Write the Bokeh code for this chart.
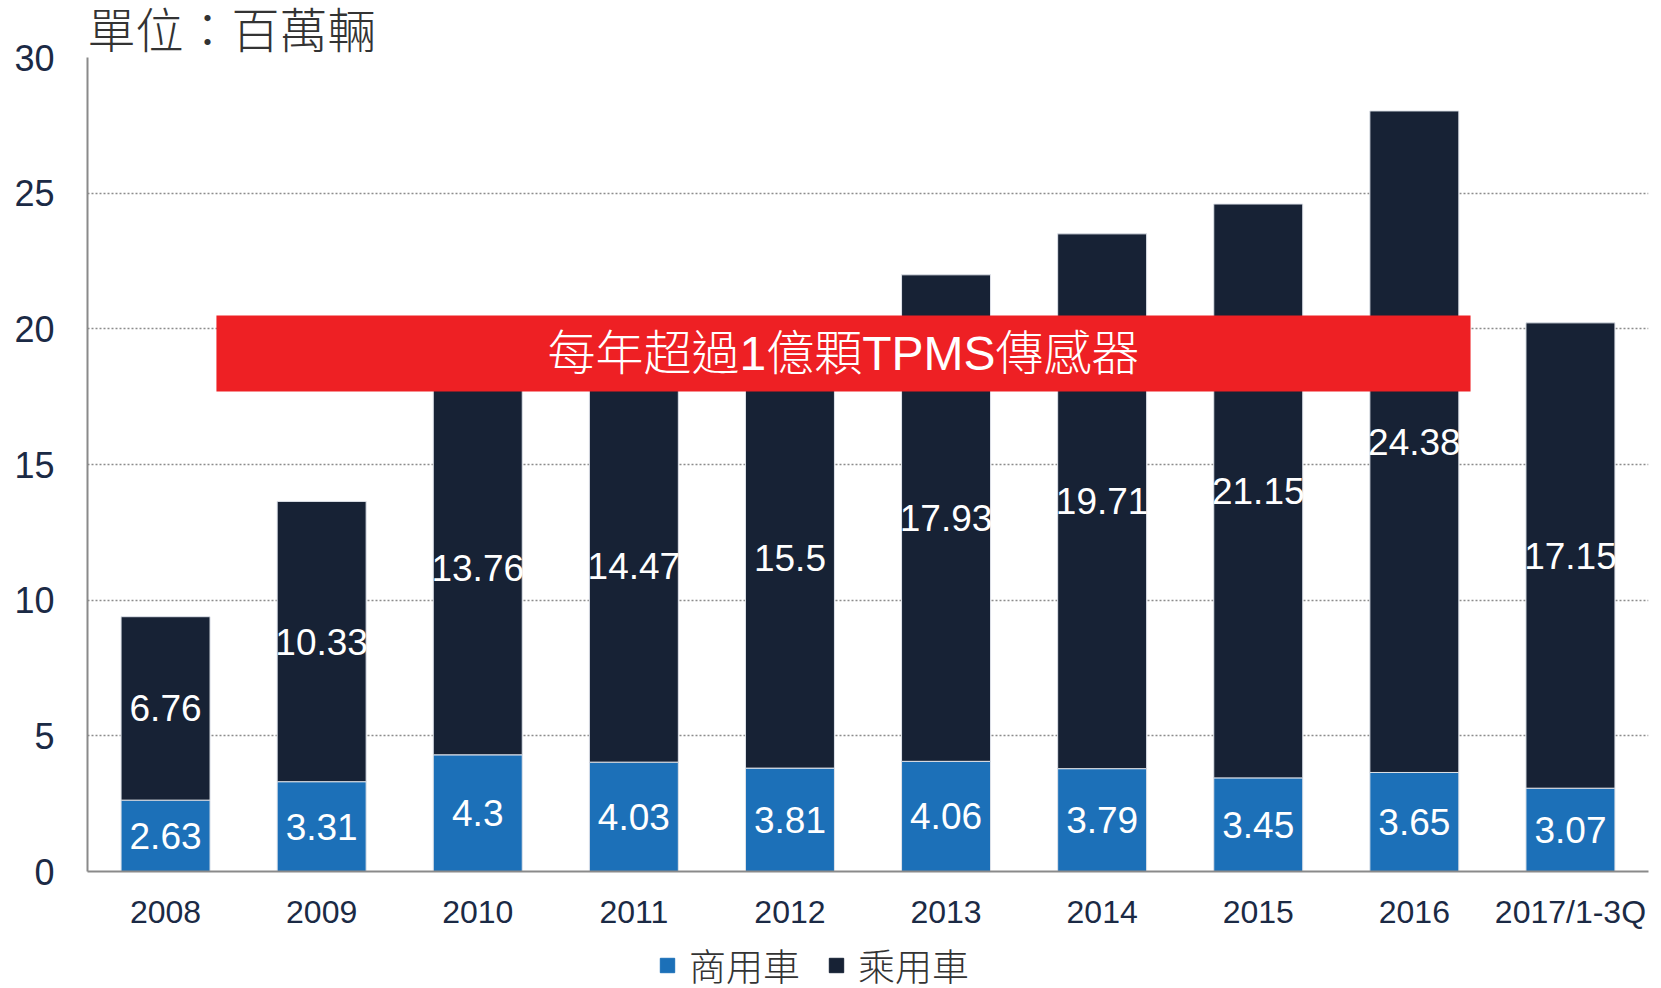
from bokeh.plotting import figure
from bokeh.models import (ColumnDataSource, FactorRange, Range1d, BoxAnnotation, Label,
                          Legend, LegendItem, FixedTicker, Title)
from bokeh.layouts import column
from bokeh.embed import file_html
from bokeh.resources import INLINE
from bokeh.core.properties import value

# ---- data ----
years = ["2008", "2009", "2010", "2011", "2012", "2013", "2014", "2015", "2016", "2017/1-3Q"]
commercial = [2.63, 3.31, 4.3, 4.03, 3.81, 4.06, 3.79, 3.45, 3.65, 3.07]
passenger = [6.76, 10.33, 13.76, 14.47, 15.5, 17.93, 19.71, 21.15, 24.38, 17.15]
series_names = ["商用車", "乘用車"]
y_ticks = [0, 5, 10, 15, 20, 25, 30]
unit_text = "單位：百萬輛"
banner_text = "每年超過1億顆TPMS傳感器"

# banner extent (synthetic categorical x, data y)
banner_left, banner_right = 0.826, 8.86
banner_bottom, banner_top = 17.69, 20.49

BLUE = "#1C70B8"
DARK = "#172235"
TICK_COLOR = "#1B2A45"
TEXT_GRAY = "#333333"
MIXED_FONT = "'Liberation Sans', 'Noto Sans CJK TC Light', 'Noto Sans CJK TC DemiLight', 'Noto Sans CJK TC'"

src = ColumnDataSource(dict(
    years=years,
    commercial=commercial,
    passenger=passenger,
    c_mid=[c / 2 for c in commercial],
    p_mid=[c + p / 2 for c, p in zip(commercial, passenger)],
    c_lab=[str(c) for c in commercial],
    p_lab=[str(p) for p in passenger],
))

p = figure(x_range=FactorRange(*years, range_padding=0), y_range=Range1d(0, 30),
           width=1658, height=940, output_backend="svg", toolbar_location=None,
           min_border_left=87, min_border_right=10, min_border_top=57, min_border_bottom=69)
p.outline_line_color = None

r = p.vbar_stack(["commercial", "passenger"], x="years", width=0.57, source=src,
                 color=[BLUE, DARK], line_color="#dfe3ea", line_width=1)

text_font = value("Liberation Sans")
p.text(x="years", y="c_mid", text="c_lab", source=src, text_color="white",
       text_font=text_font, text_font_size="37px", text_align="center", text_baseline="middle")
p.text(x="years", y="p_mid", text="p_lab", source=src, text_color="white",
       text_font=text_font, text_font_size="37px", text_align="center", text_baseline="middle")

# axes
p.yaxis.ticker = FixedTicker(ticks=y_ticks)
p.yaxis.major_label_text_font = "Liberation Sans"
p.yaxis.major_label_text_font_size = "36px"
p.yaxis.major_label_text_color = TICK_COLOR
p.yaxis.major_tick_line_color = None
p.yaxis.minor_tick_line_color = None
p.yaxis.major_label_standoff = 27
p.yaxis.axis_line_color = "#8a8a8a"
p.yaxis.axis_line_width = 2

p.xaxis.major_label_text_font = "Liberation Sans"
p.xaxis.major_label_text_font_size = "32px"
p.xaxis.major_label_text_color = TICK_COLOR
p.xaxis.major_tick_line_color = None
p.xaxis.minor_tick_line_color = None
p.xaxis.major_label_standoff = 16
p.xaxis.axis_line_color = "#8a8a8a"
p.xaxis.axis_line_width = 2

p.xgrid.grid_line_color = None
p.ygrid.ticker = FixedTicker(ticks=y_ticks[1:])
p.ygrid.grid_line_color = "#8c8c8c"
p.ygrid.grid_line_dash = "2 2"
p.ygrid.grid_line_width = 1.5

# banner
p.add_layout(BoxAnnotation(left=banner_left, right=banner_right, bottom=banner_bottom, top=banner_top,
                           fill_color="#EE2024", fill_alpha=1, line_color=None))
p.add_layout(Label(x=(banner_left + banner_right) / 2, y=(banner_bottom + banner_top) / 2,
                   text=banner_text, text_color="white", text_font=MIXED_FONT,
                   text_font_size="48px", text_align="center", text_baseline="middle"))

# unit title
p.add_layout(Title(text=unit_text, text_color=TEXT_GRAY, text_font=MIXED_FONT,
                   text_font_size="48px", text_font_style="normal", align="left",
                   standoff=0, offset=0), "above")

# legend strip (separate small figure below the chart)
lg = figure(width=1658, height=48, output_backend="svg", toolbar_location=None,
            x_range=Range1d(0, 1), y_range=Range1d(0, 1), x_axis_type=None, y_axis_type=None,
            min_border=0, outline_line_color=None)
lg.grid.visible = False
# proxy renderers (kept outside the visible range) only supply the legend swatches
lr1 = lg.vbar(x=[-5], top=[-5], bottom=[-6], width=0.1, color=BLUE)
lr2 = lg.vbar(x=[-5], top=[-5], bottom=[-6], width=0.1, color=DARK)
legend = Legend(items=[LegendItem(label=series_names[0], renderers=[lr1]),
                       LegendItem(label=series_names[1], renderers=[lr2])],
                orientation="horizontal", location=(571, -4),
                label_text_font=MIXED_FONT, label_text_font_size="37px",
                label_text_color=TEXT_GRAY, glyph_width=18, glyph_height=18,
                label_standoff=13, spacing=27, padding=0, margin=0,
                border_line_color=None, background_fill_alpha=0)
lg.add_layout(legend, "center")

layout = column(p, lg, spacing=0)
open("out.html", "w").write(file_html(layout, INLINE))
